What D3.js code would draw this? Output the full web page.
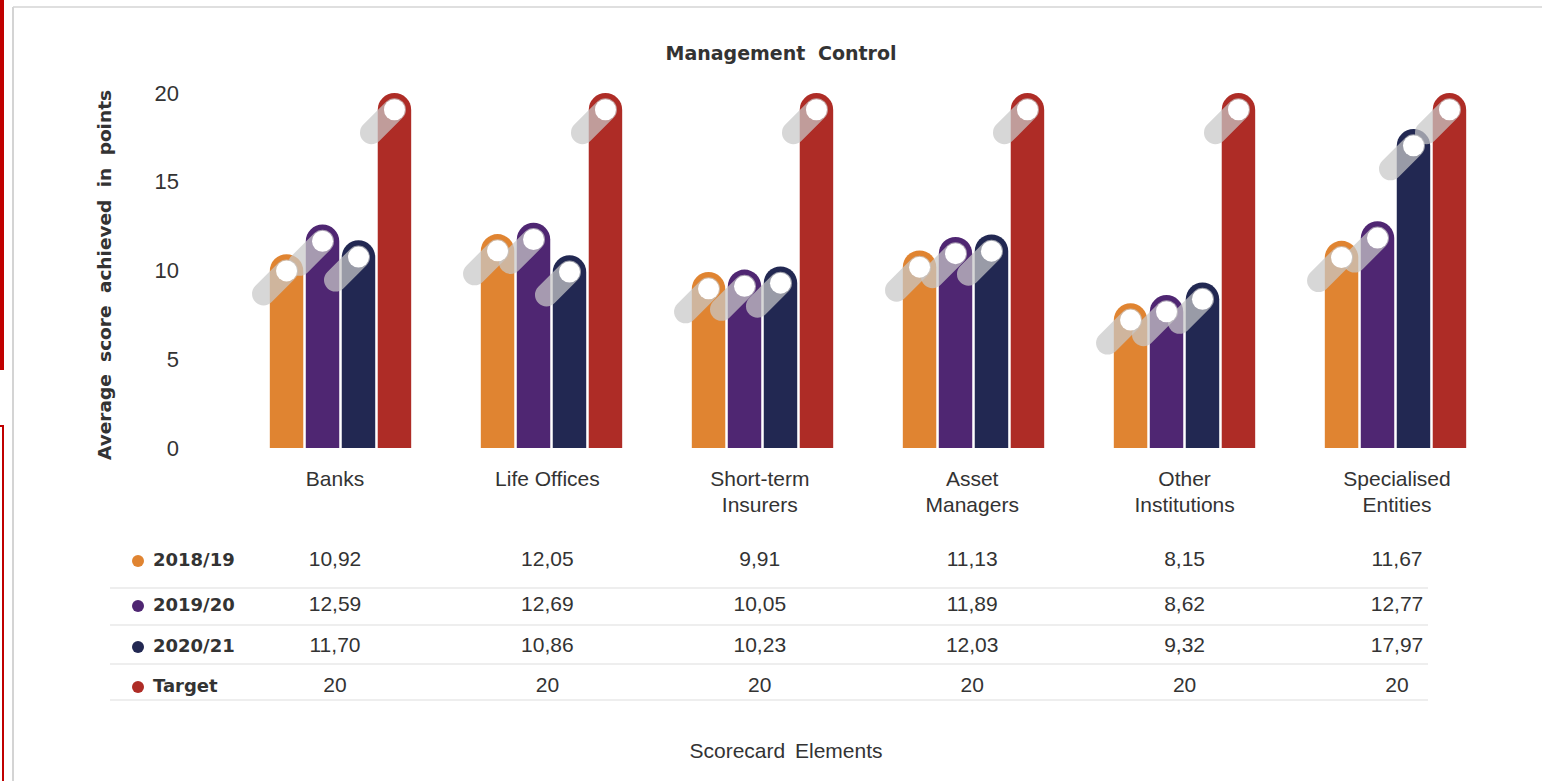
<!DOCTYPE html>
<html>
<head>
<meta charset="utf-8">
<script src="https://cdn.jsdelivr.net/npm/d3@7/dist/d3.min.js"></script>
<style>
  html, body { margin: 0; padding: 0; background: #fff; }
  svg { display: block; }
  text { fill: #333; }
</style>
</head>
<body>
<svg id="chart" width="1542" height="781"></svg>
<script>
// Average management-control score per institution type and year
const categories = ["Banks", "Life Offices", "Short-term Insurers", "Asset Managers", "Other Institutions", "Specialised Entities"];
const categoryLines = [["Banks"], ["Life Offices"], ["Short-term", "Insurers"], ["Asset", "Managers"], ["Other", "Institutions"], ["Specialised", "Entities"]];
const seriesNames = ["2018/19", "2019/20", "2020/21", "Target"];
const values2018 = [10.92, 12.05, 9.91, 11.13, 8.15, 11.67];
const values2019 = [12.59, 12.69, 10.05, 11.89, 8.62, 12.77];
const values2020 = [11.70, 10.86, 10.23, 12.03, 9.32, 17.97];
const valuesTarget = [20, 20, 20, 20, 20, 20];
const yTicks = [0, 5, 10, 15, 20];
const seriesColors = ["#E08431", "#4F2672", "#222852", "#AE2C26"];

const seriesValues = [values2018, values2019, values2020, valuesTarget];
const series = seriesNames.map((name, i) => ({ name, values: seriesValues[i], color: seriesColors[i] }));

const svg = d3.select("#chart");
const headFont = "'DejaVu Sans', sans-serif";
const bodyFont = "'Liberation Sans', Arial, sans-serif";

// page frame decorations
svg.append("rect").attr("x", 0).attr("y", 0).attr("width", 4).attr("height", 370).attr("fill", "#C00000");
svg.append("rect").attr("x", -10).attr("y", 426).attr("width", 13).attr("height", 400)
  .attr("fill", "none").attr("stroke", "#C00000").attr("stroke-width", 2);
svg.append("line").attr("x1", 13).attr("x2", 13).attr("y1", 7).attr("y2", 781)
  .attr("stroke", "#d4d4d4").attr("stroke-width", 2);
svg.append("line").attr("x1", 13).attr("x2", 1542).attr("y1", 7).attr("y2", 7)
  .attr("stroke", "#d4d4d4").attr("stroke-width", 1.5);

// scales
const x0 = d3.scaleBand().domain(categories).range([235, 1501]).paddingInner(0.33).paddingOuter(0.165);
const x1 = d3.scaleBand().domain(seriesNames).range([0, x0.bandwidth()]).paddingInner(0.07).paddingOuter(0);
const y = d3.scaleLinear().domain([0, 20]).range([448, 93]);
const col = d3.scalePoint().domain(categories).range([335, 1397]);

// title
svg.append("text").attr("x", 781).attr("y", 60).attr("text-anchor", "middle")
  .style("font-family", headFont).style("font-weight", "bold").style("font-size", "19px")
  .style("word-spacing", "6px")
  .text("Management Control");

// y axis (labels only)
const yAxis = d3.axisLeft(y).tickValues(yTicks).tickSize(0).tickPadding(0);
const gy = svg.append("g").attr("transform", "translate(179,0)").call(yAxis);
gy.select(".domain").remove();
gy.selectAll("text").style("font-family", bodyFont).style("font-size", "22px").attr("fill", "#333");

svg.append("text")
  .attr("transform", "translate(111,275) rotate(-90)")
  .attr("text-anchor", "middle")
  .style("font-family", headFont).style("font-weight", "bold").style("font-size", "18.5px")
  .style("word-spacing", "6px")
  .text("Average score achieved in points");

// bars with rounded caps
const flat = [];
categories.forEach((c, ci) => {
  series.forEach(s => flat.push({ cat: c, ser: s.name, v: s.values[ci], color: s.color }));
});

function capBar(d) {
  const w = x1.bandwidth();
  const r = w / 2;
  const xl = x0(d.cat) + x1(d.ser);
  const yt = y(d.v);
  const yb = y(0);
  return `M${xl},${yb}V${yt + r}A${r},${r} 0 0 1 ${xl + w},${yt + r}V${yb}Z`;
}

const gBars = svg.append("g");
gBars.selectAll("path").data(flat).join("path")
  .attr("d", capBar)
  .attr("fill", d => d.color);

// glossy knobs at the top of each bar
const r = x1.bandwidth() / 2;
const knobX = d => x0(d.cat) + x1(d.ser) + r;
const knobY = d => y(d.v) + r;
const gKnob = svg.append("g");
gKnob.selectAll("line").data(flat).join("line")
  .attr("x1", knobX).attr("y1", knobY)
  .attr("x2", d => knobX(d) - 23).attr("y2", d => knobY(d) + 23)
  .attr("stroke", "rgb(200,200,200)").attr("stroke-opacity", 0.72)
  .attr("stroke-width", 23).attr("stroke-linecap", "round");
gKnob.selectAll("circle").data(flat).join("circle")
  .attr("cx", knobX).attr("cy", knobY).attr("r", 10.5)
  .attr("fill", "#fff");

// category labels
const gCat = svg.append("g");
categories.forEach((c, i) => {
  const t = gCat.append("text").attr("x", col(c)).attr("y", 486).attr("text-anchor", "middle")
    .style("font-family", bodyFont).style("font-size", "21px");
  categoryLines[i].forEach((line, li) => {
    t.append("tspan").attr("x", col(c)).attr("dy", li === 0 ? 0 : 26).text(line);
  });
});

// data table
const rowY = [566, 611, 652, 692];
const sepY = [588, 625, 664, 700];
const locale = d3.formatLocale({ decimal: ",", thousands: " ", grouping: [3], currency: ["", ""] });
const fmt2 = locale.format(".2f");
const fmtInt = locale.format("d");

const gTable = svg.append("g");
gTable.selectAll("line.sep").data(sepY).join("line")
  .attr("class", "sep")
  .attr("x1", 110).attr("x2", 1428).attr("y1", d => d).attr("y2", d => d)
  .attr("stroke", "#eeeeee").attr("stroke-width", 2);

series.forEach((s, si) => {
  const row = gTable.append("g");
  row.append("circle").attr("cx", 138).attr("cy", rowY[si] - 5).attr("r", 6).attr("fill", s.color);
  row.append("text").attr("x", 153).attr("y", rowY[si])
    .style("font-family", headFont).style("font-weight", "bold").style("font-size", "18px")
    .text(s.name);
  row.selectAll("text.val").data(s.values).join("text")
    .attr("class", "val")
    .attr("x", (d, i) => col(categories[i])).attr("y", rowY[si])
    .attr("text-anchor", "middle")
    .style("font-family", bodyFont).style("font-size", "21px")
    .text(d => s.name === "Target" ? fmtInt(d) : fmt2(d));
});

// x axis title
svg.append("text").attr("x", 786).attr("y", 758).attr("text-anchor", "middle")
  .style("font-family", bodyFont).style("font-size", "21px").style("word-spacing", "4px")
  .text("Scorecard Elements");
</script>
</body>
</html>
